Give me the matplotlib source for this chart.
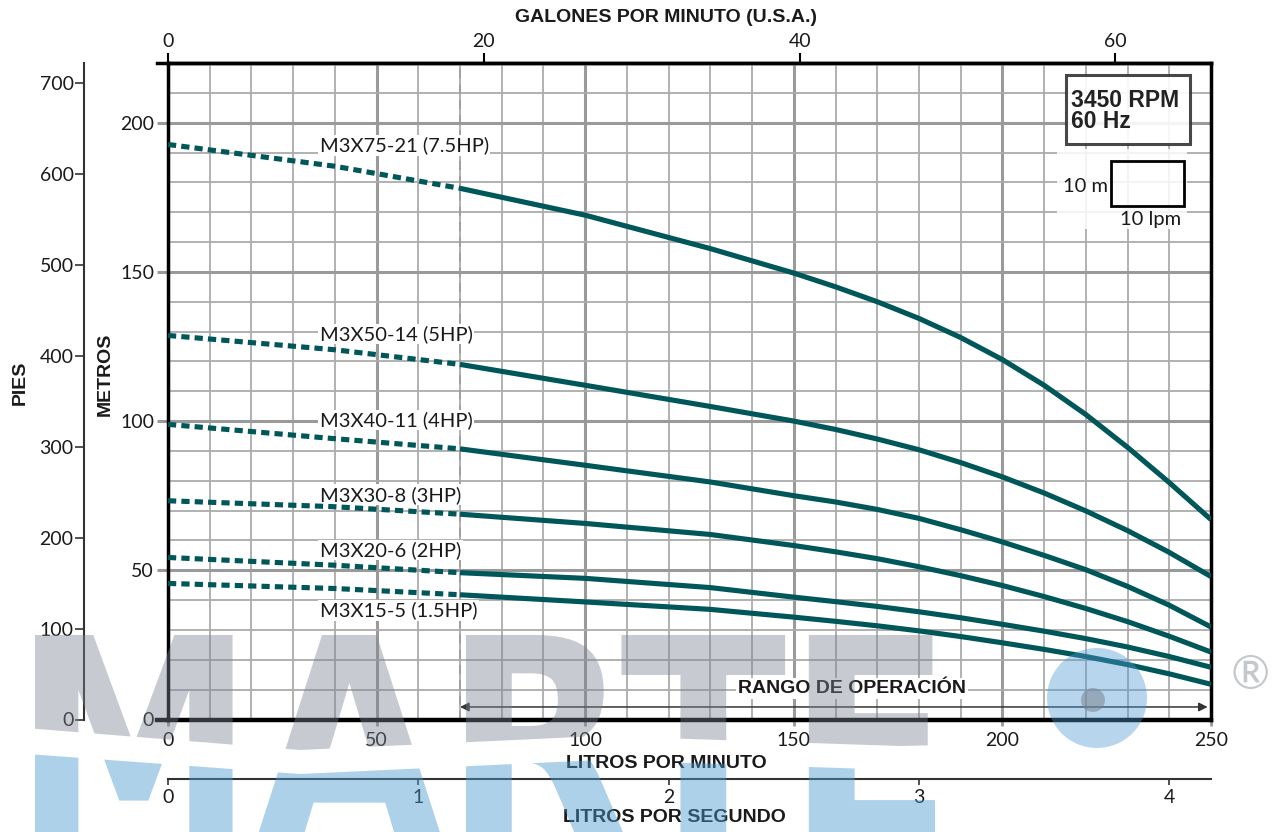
"""
Curva de rendimiento bombas sumergibles M3X, 3450 RPM 60 Hz.
"""
import numpy as np
import matplotlib
matplotlib.use("Agg")
import matplotlib.pyplot as plt
import matplotlib.transforms as mtransforms
from matplotlib.patches import Rectangle, Circle, Polygon, PathPatch
from matplotlib.textpath import TextPath
from matplotlib.font_manager import FontProperties

# ---- data ------------------------------------------------------------------
FLOW = [70, 100, 130, 150, 160, 170, 180, 190, 200, 210, 220, 230, 240, 250]  # lpm, solid
FLOW_LOW = [0, 40, 70]                                                        # lpm, dotted

MODELS = ["M3X75-21 (7.5HP)", "M3X50-14 (5HP)", "M3X40-11 (4HP)",
          "M3X30-8 (3HP)", "M3X20-6 (2HP)", "M3X15-5 (1.5HP)"]

HEAD_75_21 = [178.0, 169.0, 157.8, 149.6, 145.0, 140.0, 134.4, 128.0, 120.6, 112.0, 102.2, 91.2, 79.4, 67.0]
HEAD_50_14 = [119.0, 112.0, 104.9, 100.0, 97.2, 94.0, 90.4, 86.1, 81.3, 75.9, 69.9, 63.3, 56.0, 47.9]
HEAD_40_11 = [90.7, 85.2, 79.6, 75.0, 72.9, 70.4, 67.4, 63.6, 59.5, 55.0, 50.2, 44.6, 38.3, 31.0]
HEAD_30_8 = [68.8, 65.7, 62.0, 58.3, 56.2, 53.9, 51.2, 48.2, 44.9, 41.2, 37.2, 32.8, 27.9, 22.6]
HEAD_20_6 = [49.2, 47.3, 44.2, 41.0, 39.5, 37.9, 36.1, 34.1, 31.9, 29.6, 27.1, 24.3, 21.1, 17.5]
HEAD_15_5 = [41.8, 39.4, 36.9, 34.3, 32.9, 31.4, 29.7, 27.8, 25.7, 23.5, 21.1, 18.4, 15.3, 11.8]

LOW_75_21 = [192.7, 185.4, 178.0]
LOW_50_14 = [128.7, 123.9, 119.0]
LOW_40_11 = [98.9, 94.1, 90.7]
LOW_30_8 = [73.3, 71.3, 68.8]
LOW_20_6 = [54.3, 51.7, 49.2]
LOW_15_5 = [45.6, 43.9, 41.8]

HEADS = [HEAD_75_21, HEAD_50_14, HEAD_40_11, HEAD_30_8, HEAD_20_6, HEAD_15_5]
HEADS_LOW = [LOW_75_21, LOW_50_14, LOW_40_11, LOW_30_8, LOW_20_6, LOW_15_5]

LPM_TICKS = [0, 50, 100, 150, 200, 250]
M_TICKS = [0, 50, 100, 150, 200]
GPM_TICKS = [0, 20, 40, 60]
LPS_TICKS = [0, 1, 2, 3, 4]
FT_TICKS = [0, 100, 200, 300, 400, 500, 600, 700]

MIN_FLOW = 70          # start of operating range

# ---- style -----------------------------------------------------------------
TEAL = "#00575a"
GRID_MINOR = "#ababab"
GRID_MAJOR = "#9a9a9a"
INK = "#1a1a1a"
WM_GRAY = "#7b8592"
WM_BLUE = "#4d9ad2"

plt.rcParams["font.family"] = ["Lato", "DejaVu Sans"]
BOLD = ["Liberation Sans", "DejaVu Sans"]

W, H = 1275, 832
fig = plt.figure(figsize=(W / 100, H / 100), dpi=100)
fig.patch.set_facecolor("white")
# image-pixel transform (x right, y down)
PX = mtransforms.Affine2D().scale(1 / W, -1 / H).translate(0, 1) + fig.transFigure

L, R, T, B = 168, 1211, 63, 719.5
ax = fig.add_axes([L / W, 1 - B / H, (R - L) / W, (B - T) / H])
ax.set_xlim(0, 250)
ax.set_ylim(0, 220)

ax.set_xticks(LPM_TICKS)
ax.set_xticks(np.arange(0, 251, 10), minor=True)
ax.set_yticks(M_TICKS)
ax.set_yticks(np.arange(0, 221, 10), minor=True)
ax.grid(which="minor", color=GRID_MINOR, lw=1.3, zorder=0)
ax.grid(which="major", color=GRID_MAJOR, lw=2.2, zorder=0)
ax.set_axisbelow(True)
ax.tick_params(which="minor", length=0)
ax.tick_params(axis="y", which="major", length=8, width=2.2, color=GRID_MAJOR,
               labelsize=14, pad=2, labelcolor=INK)
ax.tick_params(axis="x", which="major", length=4, width=2, color=GRID_MAJOR,
               labelsize=14, pad=5, labelcolor=INK)
for side, lw in [("top", 2.5), ("left", 2.5), ("right", 2.5), ("bottom", 3.2)]:
    ax.spines[side].set_linewidth(lw)
    ax.spines[side].set_color("black")

ax.axvline(MIN_FLOW, color="#9a9a9a", lw=1.1, ls=(0, (6, 4)), zorder=1)

# ---- curves ----------------------------------------------------------------
for head, low in zip(HEADS, HEADS_LOW):
    ax.plot(FLOW, head, color=TEAL, lw=3.7, solid_capstyle="butt",
            solid_joinstyle="round", zorder=4)
    ax.plot(FLOW_LOW, low, color=TEAL, lw=3.7, ls=(0, (1.6, 1.0)),
            dash_capstyle="butt", zorder=4)

LABEL_POS = [(36.4, 192.3), (36.4, 129.2), (36.4, 100.4),
             (36.4, 75.3), (36.4, 56.8), (36.4, 36.6)]
for name, (lx, ly) in zip(MODELS, LABEL_POS):
    ax.text(lx, ly, name, fontsize=14.5, ha="left", va="center", color=INK,
            bbox=dict(fc="white", ec="none", pad=1.0), zorder=3)

# operating range
ax.annotate("", xy=(249.2, 4.2), xytext=(MIN_FLOW, 4.2),
            arrowprops=dict(arrowstyle="<|-|>", color="#333333", lw=1.1,
                            mutation_scale=13, shrinkA=0, shrinkB=0), zorder=3)
ax.text(164, 10.5, "RANGO DE OPERACIÓN", family=BOLD, weight="bold",
        fontsize=14, ha="center", va="center", color=INK,
        bbox=dict(fc="white", ec="none", pad=1.5), zorder=3)

# info box
ax.add_patch(Rectangle((215.2, 192.9), 29.8, 23.1, fc="white", ec="#333333",
                       lw=2.2, alpha=0.9, zorder=5))
ax.text(216.5, 207.4, "3450 RPM", family=BOLD, weight="bold", fontsize=16.5,
        ha="left", va="center", color="#222222", zorder=6)
ax.text(216.5, 200.4, "60 Hz", family=BOLD, weight="bold", fontsize=16.5,
        ha="left", va="center", color="#222222", zorder=6)

# scale box
ax.add_patch(Rectangle((213.1, 164.5), 31.1, 26.8, fc="white", ec="none",
                       alpha=0.85, zorder=5))
ax.add_patch(Rectangle((226.0, 172.2), 17.5, 15.0, fc="none", ec="black",
                       lw=2, zorder=6))
ax.text(225.3, 178.6, "10 m", fontsize=14.5, ha="right", va="center",
        color=INK, zorder=6)
ax.text(235.4, 167.6, "10 lpm", fontsize=14.5, ha="center", va="center",
        color=INK, zorder=6)

# ---- secondary scales --------------------------------------------------------
gpm = ax.secondary_xaxis("top", functions=(lambda q: q / 3.785, lambda q: q * 3.785))
gpm.set_xticks(GPM_TICKS)
gpm.tick_params(length=7, width=1.5, pad=2, labelsize=14, labelcolor=INK)
gpm.spines["top"].set_linewidth(2.5)

lps = ax.secondary_xaxis(-(779 - B) / (B - T),
                         functions=(lambda q: q / 60.0, lambda q: q * 60.0))
lps.set_xticks(LPS_TICKS)
lps.tick_params(length=4, width=1.2, pad=3, labelsize=14, color="#333333",
                labelcolor=INK)
lps.spines["bottom"].set_linewidth(1.5)
lps.spines["bottom"].set_color("#333333")

ft = ax.secondary_yaxis((84 - L) / (R - L),
                        functions=(lambda q: q * 3.2808, lambda q: q / 3.2808))
ft.set_yticks(FT_TICKS)
ft.tick_params(length=6.5, width=1.2, pad=1, labelsize=14, color="#333333",
               labelcolor=INK)
ft.spines["left"].set_linewidth(1.5)
ft.spines["left"].set_color("#333333")

# short extensions of the top and bottom frame lines past the left spine
fig.add_artist(plt.Line2D([157, 168], [63, 63], transform=PX, color="black", lw=2.5))
fig.add_artist(plt.Line2D([157, 168], [719.5, 719.5], transform=PX, color="black", lw=3.2))

# axis titles
fig.text(666, 17, "GALONES POR MINUTO (U.S.A.)", transform=PX, family=BOLD,
         weight="bold", fontsize=14, ha="center", va="center", color=INK)
fig.text(666, 764, "LITROS POR MINUTO", transform=PX, family=BOLD,
         weight="bold", fontsize=14, ha="center", va="center", color=INK)
fig.text(674, 818, "LITROS POR SEGUNDO", transform=PX, family=BOLD,
         weight="bold", fontsize=14, ha="center", va="center", color=INK)
fig.text(20, 383, "PIES", transform=PX, family=BOLD, weight="bold",
         fontsize=14, ha="center", va="center", rotation=90, color=INK)
fig.text(105, 374, "METROS", transform=PX, family=BOLD, weight="bold",
         fontsize=14, ha="center", va="center", rotation=90, color=INK)

# ---- watermark (brand logo over the lower part) ------------------------------
tp = TextPath((0, 0), "MARTE", size=100,
              prop=FontProperties(family="DejaVu Sans", weight="bold"))
ext = tp.get_extents()
sx = (935 - 35) / ext.width
sy = (840 - 635) / ext.y1
word_tf = mtransforms.Affine2D().translate(-ext.x0, 0).scale(sx, -sy).translate(35, 840) + PX

gray_clip = Polygon([(0, 560), (W, 560), (W, 738), (900, 746), (600, 736),
                     (300, 750), (0, 726)], closed=True, transform=PX)
blue_clip = Polygon([(0, 752), (300, 774), (600, 760), (900, 770),
                     (W, 760), (W, H), (0, H)], closed=True, transform=PX)
for color, clip, alpha in [(WM_GRAY, gray_clip, 0.42), (WM_BLUE, blue_clip, 0.45)]:
    patch = PathPatch(tp, transform=word_tf, fc=color, ec="none", alpha=alpha, zorder=10)
    fig.add_artist(patch)
    patch.set_clip_path(clip)

fig.add_artist(Circle((1097, 698), 50, transform=PX, fc=WM_BLUE, ec="none",
                      alpha=0.4, zorder=10))
fig.add_artist(Circle((1093, 700), 12, transform=PX, fc=WM_GRAY, ec="none",
                      alpha=0.55, zorder=11))
fig.text(1250, 676, "®", transform=PX, fontsize=34, ha="center", va="center",
         color=WM_GRAY, alpha=0.45, zorder=11)

fig.savefig("out.png", dpi=100, facecolor="white")
